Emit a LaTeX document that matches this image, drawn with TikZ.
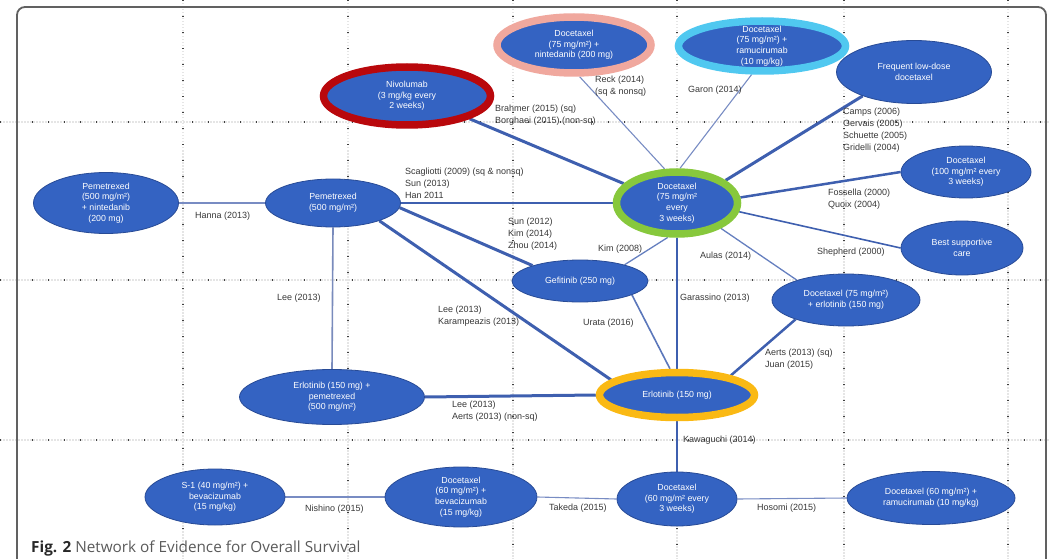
\documentclass[tikz,border=0pt]{standalone}
\usepackage{fontspec}
\setmainfont{Liberation Sans}
\newfontfamily\capfont{Open Sans}
\usetikzlibrary{shapes.geometric,backgrounds}
\definecolor{nfill}{RGB}{52,99,194}
\definecolor{nedge}{RGB}{40,75,150}
\definecolor{ringred}{RGB}{185,8,12}
\definecolor{ringpink}{RGB}{240,168,158}
\definecolor{ringblue}{RGB}{80,200,240}
\definecolor{ringgreen}{RGB}{135,200,60}
\definecolor{ringyellow}{RGB}{250,185,20}
\definecolor{ecol}{RGB}{62,95,175}
\definecolor{ethinc}{RGB}{120,140,195}
\definecolor{labc}{RGB}{55,55,55}
\definecolor{capdark}{RGB}{40,40,40}
\definecolor{capgray}{RGB}{90,90,90}
\begin{document}
\begin{tikzpicture}[x=1pt,y=-1pt,
  ell/.style={ellipse, draw=nedge, line width=0.8pt, fill=nfill, inner sep=0pt},
  sz/.style 2 args={minimum width=#1, minimum height=#2},
  ring/.style={draw=#1, line width=7.5pt},
  nt/.style={label={[ntext]center:#1}},
  ntext/.style={text=white, align=center, inner sep=0pt, font=\fontsize{8.8}{10.6}\selectfont},
  lab/.style={anchor=west, align=left, text=labc, inner sep=0pt, font=\fontsize{9}{12}\selectfont},
  ethick/.style={draw=ecol, line width=3pt},
  emed/.style={draw=ecol, line width=2pt},
  ethin/.style={draw=ethinc, line width=1.1pt},
  gridhalo/.style={draw=black!10, line width=2.6pt, dash pattern=on 1.5pt off 1.5pt},
  griddot/.style={draw=black!75, line width=1.3pt, dash pattern=on 1.3pt off 14.7pt},
  frame/.style={draw=black!62, line width=1.8pt, rounded corners=8pt}
]
\useasboundingbox (0,0) rectangle (1050,559);

% ---------- nodes ----------
\node[ell, ring=ringred, sz={167pt}{58pt}, nt={Nivolumab\\(3 mg/kg every\\2 weeks)}] (niv) at (407,96) {};
\node[ell, ring=ringpink, sz={154pt}{56pt}, nt={Docetaxel\\(75 mg/m²) +\\nintedanib (200 mg)}] (nint) at (574,45) {};
\node[ell, ring=ringblue, sz={167pt}{50pt}, nt={Docetaxel\\(75 mg/m²) +\\ramucirumab\\(10 mg/kg)}] (ram) at (762,46) {};
\node[ell, sz={155pt}{63pt}, nt={Frequent low-dose\\docetaxel}] (freq) at (914,72) {};
\node[ell, sz={130pt}{52pt}, nt={Docetaxel\\(100 mg/m² every\\3 weeks)}] (d100) at (966,172) {};
\node[ell, sz={122pt}{54pt}, nt={Best supportive\\care}] (bsc) at (962,248) {};
\node[ell, sz={148pt}{52pt}, nt={Docetaxel (75 mg/m²)\\+ erlotinib (150 mg)}] (docerl) at (846,300) {};
\node[ell, ring=ringgreen, sz={121pt}{62pt}, nt={Docetaxel\\(75 mg/m²\\every\\3 weeks)}] (dq3w) at (677,203) {};
\node[ell, ring=ringyellow, sz={155pt}{45pt}, nt={Erlotinib (150 mg)}] (erl) at (677,395) {};
\node[ell, sz={136pt}{42pt}, nt={Gefitinib (250 mg)}] (gef) at (580,281) {};
\node[ell, sz={135pt}{48pt}, nt={Pemetrexed\\(500 mg/m²)}] (pem) at (333,203) {};
\node[ell, sz={145pt}{61pt}, nt={Pemetrexed\\(500 mg/m²)\\+ nintedanib\\(200 mg)}] (pemnint) at (106,203) {};
\node[ell, sz={185pt}{55pt}, nt={Erlotinib (150 mg) +\\pemetrexed\\(500 mg/m²)}] (erlpem) at (332,397) {};
\node[ell, sz={140pt}{56pt}, nt={S-1 (40 mg/m²) +\\bevacizumab\\(15 mg/kg)}] (s1) at (215,497) {};
\node[ell, sz={152pt}{60pt}, nt={Docetaxel\\(60 mg/m²) +\\bevacizumab\\(15 mg/kg)}] (d60bev) at (461,497) {};
\node[ell, sz={120pt}{54pt}, nt={Docetaxel\\(60 mg/m² every\\3 weeks)}] (d60) at (677,499) {};
\node[ell, sz={168pt}{53pt}, nt={Docetaxel (60 mg/m²) +\\ramucirumab (10 mg/kg)}] (d60ram) at (931,498) {};

% ---------- edge labels ----------
\node[lab] (lniv) at (495,115) {Brahmer (2015) (sq)\\Borghaei (2015) (non-sq)};
\node[lab] (lnint) at (595,86) {Reck (2014)\\(sq \& nonsq)};
\node[lab] (lram) at (688,90) {Garon (2014)};
\node[lab] (lfreq) at (843,130) {Camps (2006)\\Gervais (2005)\\Schuette (2005)\\Gridelli (2004)};
\node[lab] (l100) at (828,199) {Fossella (2000)\\Quoix (2004)};
\node[lab] (lbsc) at (817,252) {Shepherd (2000)};
\node[lab] (laul) at (700,256) {Aulas (2014)};
\node[lab] (laer) at (765,359) {Aerts (2013) (sq)\\Juan (2015)};
\node[lab] (lgar) at (680,298) {Garassino (2013)};
\node[lab] (lkim) at (598,249) {Kim (2008)};
\node[lab] (lura) at (583,323) {Urata (2016)};
\node[lab] (lsca) at (405,183) {Scagliotti (2009) (sq \& nonsq)\\Sun (2013)\\Han 2011};
\node[lab] (lsun) at (508,234) {Sun (2012)\\Kim (2014)\\Zhou (2014)};
\node[lab] (llk) at (438,316) {Lee (2013)\\Karampeazis (2013)};
\node[lab] (lhan) at (195,216) {Hanna (2013)};
\node[lab] (llee) at (277,298) {Lee (2013)};
\node[lab] (llae) at (452,411) {Lee (2013)\\Aerts (2013) (non-sq)};
\node[lab] (lkaw) at (683,440) {Kawaguchi (2014)};
\node[lab] (lnis) at (305,509) {Nishino (2015)};
\node[lab] (ltak) at (549,508) {Takeda (2015)};
\node[lab] (lhos) at (757,508) {Hosomi (2015)};

% ---------- caption ----------
\node[anchor=base west, inner sep=0pt, text=capgray, font=\capfont\fontsize{15.3}{17}\selectfont] (cap) at (31,552)
  {\textcolor{capdark}{\textbf{Fig. 2}} Network of Evidence for Overall Survival};

\begin{pgfonlayer}{background}
  % dotted grid
  \foreach \gx in {183,348,513,677,844,1008} {
    \draw[gridhalo] (\gx,0) -- (\gx,559);
    \draw[griddot] (\gx,0) -- (\gx,559);
  }
  \foreach \gy in {122,280,440} {
    \draw[gridhalo] (0,\gy) -- (1050,\gy);
    \draw[griddot] (0,\gy) -- (1050,\gy);
  }
  % frame
  \draw[frame] (17,580) -- (17,7) -- (1046,7) -- (1046,580);
  % connectors
  \draw[ethick] (niv.-20) -- (dq3w.160);
  \draw[ethin] (nint.-80) -- (dq3w.110);
  \draw[ethin] (ram.-110) -- (dq3w.85);
  \draw[ethick] (freq.-155) -- (dq3w.25);
  \draw[emed, line width=2.5pt] (d100.180) -- (dq3w.5);
  \draw[emed, line width=1.6pt] (bsc.west) -- (dq3w.-8);
  \draw[ethin, draw=ecol!80, line width=1.3pt] (docerl.158) -- (dq3w.-30);
  \draw[emed, line width=2.5pt] (docerl.201) -- (erl.20);
  \draw[emed] (dq3w.south) -- (erl.north);
  \draw[ethin, draw=ecol!80, line width=1.3pt] (gef.20) -- (dq3w.-105);
  \draw[ethin, draw=ecol!85, line width=1.6pt] (gef.-15) -- (erl.105);
  \draw[emed, line width=2.5pt] (pem.east) -- (dq3w.west);
  \draw[ethick] (pem.-4) -- (gef.162);
  \draw[ethick] (pem.-21) -- (erl.167);
  \draw[ethin] (pemnint.east) -- (pem.west);
  \draw[ethin, line width=1.6pt, draw=ethinc!90!gray] (pem.south) -- (erlpem.north);
  \draw[ethick] (erlpem.east) -- (erl.west);
  \draw[ethin, draw=ecol] (erl.south) -- (d60.north);
  \draw[ethin] (s1.east) -- (d60bev.west);
  \draw[ethin] (d60bev.east) -- (d60.west);
  \draw[ethin] (d60.east) -- (d60ram.west);
\end{pgfonlayer}
\end{tikzpicture}
\end{document}
